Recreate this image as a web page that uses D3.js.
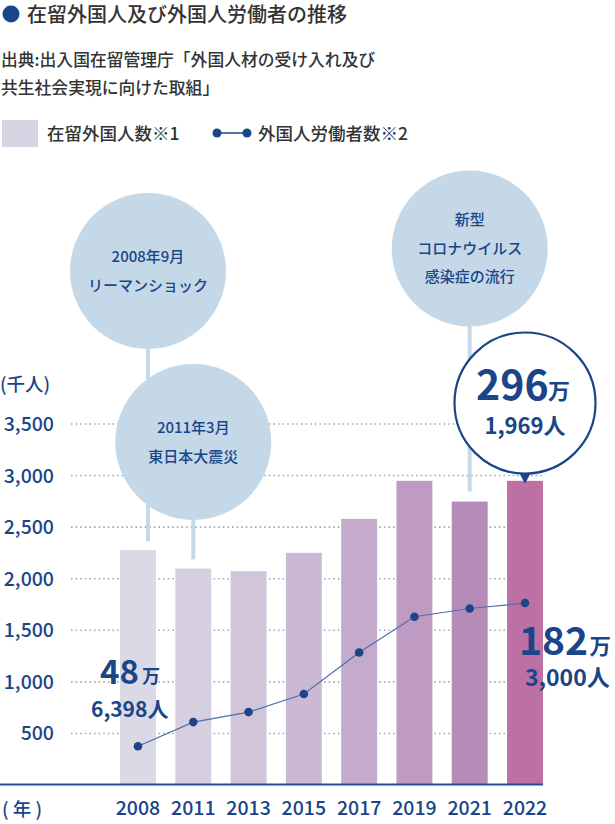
<!DOCTYPE html>
<html><head><meta charset="utf-8">
<script src="https://cdn.jsdelivr.net/npm/d3@7"></script>
<style>
body{margin:0;background:#fff;}
svg{display:block;font-family:"Noto Sans CJK JP","Noto Sans",sans-serif;}
</style></head>
<body><svg id="c" width="615" height="824"></svg>
<script>
const years = ["2008","2011","2013","2015","2017","2019","2021","2022"];
const residents = [2277, 2099, 2073, 2251, 2580, 2949, 2748, 2949];
const workers = [375, 610, 707, 882, 1285, 1631, 1711, 1764];
const barColors = ["#dcd9e6","#d6cfe1","#d1c5db","#cbb9d4","#c4aacb","#bf9bc3","#b78bb8","#bd70a4"];
const yTicks = [500, 1000, 1500, 2000, 2500, 3000, 3500];
const tickLabels = ["500","1,000","1,500","2,000","2,500","3,000","3,500"];
const title = "在留外国人及び外国人労働者の推移";
const sourceLines = ["出典:出入国在留管理庁「外国人材の受け入れ及び","共生社会実現に向けた取組」"];
const legendLabels = ["在留外国人数※1","外国人労働者数※2"];
const events = [
  {year:"2008", lines:["2008年9月","リーマンショック"]},
  {year:"2011", lines:["2011年3月","東日本大震災"]},
  {year:"2021", lines:["新型","コロナウイルス","感染症の流行"]}
];

const NAVY = "#1a4588", TXT = "#333", BUB = "#c4d8e8";
const svg = d3.select("#c");
const x = d3.scaleBand().domain(years).range([110.35, 552.65]).paddingInner(0.35).paddingOuter(0.175);
const y = d3.scaleLinear().domain([0, 3500]).range([785, 424]);
const bw = x.bandwidth();
const xEnd = x("2022") + bw;

// Title
svg.append("circle").attr("cx", 11).attr("cy", 14).attr("r", 8.5).attr("fill", NAVY);
svg.append("text").attr("x", 27).attr("y", 22).attr("font-size", 20).attr("font-weight", 500).attr("fill", TXT).text(title);
sourceLines.forEach((s,i)=>svg.append("text").attr("x", 1).attr("y", 66 + i*28).attr("font-size", 16.8).attr("font-weight", 500).attr("fill", TXT).text(s));

// Legend
svg.append("rect").attr("x", 2).attr("y", 120).attr("width", 36).attr("height", 27).attr("fill", "#d7d3e3");
svg.append("text").attr("x", 47).attr("y", 140).attr("font-size", 17.5).attr("font-weight", 500).attr("fill", TXT).text(legendLabels[0]);
svg.append("line").attr("x1", 217).attr("x2", 247).attr("y1", 133).attr("y2", 133).attr("stroke", NAVY).attr("stroke-width", 1.5);
[217,247].forEach(cx=>svg.append("circle").attr("cx", cx).attr("cy", 133).attr("r", 4.5).attr("fill", NAVY));
svg.append("text").attr("x", 258).attr("y", 140).attr("font-size", 17.5).attr("font-weight", 500).attr("fill", TXT).text(legendLabels[1]);

// Grid
const grid = svg.append("g");
grid.selectAll("line").data(yTicks).join("line")
  .attr("x1", 71).attr("x2", xEnd).attr("y1", d=>y(d)).attr("y2", d=>y(d))
  .attr("stroke", "#a9a6b4").attr("stroke-width", 1.6).attr("stroke-dasharray", "1.6 3");

// Y axis labels via d3 axis
const yAxis = d3.axisLeft(y).tickValues(yTicks).tickFormat((d,i)=>tickLabels[i]).tickSize(0).tickPadding(0);
const ya = svg.append("g").attr("transform", "translate(54,0)").call(yAxis);
ya.select(".domain").remove();
ya.selectAll("text").attr("font-size", 19.5).attr("font-weight", 500).attr("fill", NAVY)
  .attr("font-family", '"Noto Sans CJK JP",sans-serif').attr("dy", "0.33em");
svg.append("text").attr("x", 0).attr("y", 391).attr("font-size", 18.5).attr("font-weight", 500).attr("fill", NAVY).text("(千人)");

// Bubbles (events)
function bubble(cx, cy, r, stemTop, stemBottom, lines){
  svg.append("line").attr("x1", cx).attr("x2", cx).attr("y1", stemTop).attr("y2", stemBottom).attr("stroke", BUB).attr("stroke-width", 4);
  svg.append("circle").attr("cx", cx).attr("cy", cy).attr("r", r).attr("fill", BUB);
  const n = lines.length;
  lines.forEach((l,i)=>svg.append("text").attr("x", cx).attr("y", cy + (i-(n-1)/2)*28.5).attr("dy","0.36em")
    .attr("text-anchor","middle").attr("font-size", 15).attr("font-weight", 500).attr("fill", NAVY).text(l));
}
const ev0 = events[0], ev1 = events[1], ev2 = events[2];
const i0 = years.indexOf(ev0.year), i1 = years.indexOf(ev1.year), i2 = years.indexOf(ev2.year);
bubble(x(ev0.year)+bw/2+10, 271, 78, 300, y(residents[i0])-9, ev0.lines);
// Bars
svg.append("g").selectAll("rect").data(years).join("rect")
  .attr("x", d=>x(d)).attr("width", bw)
  .attr("y", (d,i)=>y(residents[i])).attr("height", (d,i)=>y(0)-y(residents[i]))
  .attr("fill", (d,i)=>barColors[i]);
bubble(x(ev1.year)+bw/2, 442, 78, 450, y(residents[i1])-9, ev1.lines);
bubble(x(ev2.year)+bw/2, 248.5, 78, 300, y(residents[i2])-10, ev2.lines);

// Axis baseline
svg.append("line").attr("x1", 0).attr("x2", xEnd).attr("y1", 784.5).attr("y2", 784.5).attr("stroke", "#2a4f92").attr("stroke-width", 2);

// X axis labels
const xAxis = d3.axisBottom(x).tickSize(0).tickPadding(0);
const xa = svg.append("g").attr("transform", "translate(0,799)").call(xAxis);
xa.select(".domain").remove();
xa.selectAll("text").attr("font-size", 19.5).attr("font-weight", 500).attr("fill", NAVY)
  .attr("font-family", '"Noto Sans CJK JP",sans-serif').attr("dy", "0.8em");
svg.append("text").attr("x", 2).attr("y", 816).attr("font-size", 18.5).attr("font-weight", 500).attr("fill", NAVY)
  .attr("xml:space","preserve").style("white-space","pre").text("( 年 )");

// Worker line
const line = d3.line().x((d,i)=>x(years[i])+bw/2).y(d=>y(d));
svg.append("path").attr("d", line(workers)).attr("fill","none").attr("stroke","#4c70aa").attr("stroke-width",1.2);
svg.append("g").selectAll("circle").data(workers).join("circle")
  .attr("cx",(d,i)=>x(years[i])+bw/2).attr("cy", d=>y(d)).attr("r", 4.3).attr("fill", NAVY);

// Callouts for worker counts
function bigLabel(xl, yBig, big, unit, small, xs, ys, sizeBig, sizeSmall){
  svg.append("text").attr("x", xl).attr("y", yBig).attr("fill", NAVY).attr("font-weight", 700).attr("font-size", sizeBig).text(big);
  const w = sizeBig * 0.56 * big.length;
  svg.append("text").attr("x", xl + w + 5).attr("y", yBig - 1).attr("fill", NAVY).attr("font-weight", 700).attr("font-size", sizeBig*0.55).text(unit);
  svg.append("text").attr("x", xs).attr("y", ys).attr("fill", NAVY).attr("font-weight", 700).attr("font-size", sizeSmall).text(small);
}
bigLabel(100, 684, "48", "万", "6,398人", 91, 717, 33, 21);
bigLabel(519, 655, "182", "万", "3,000人", 525, 686, 39, 23);

// 296万 bubble with pointer
const bx = x("2022")+bw/2, by = 403, br = 70.5;
const tipY = y(residents[7]) + 3;
svg.append("path").attr("d", `M${bx-7},${by+br-3} L${bx},${tipY} L${bx+7},${by+br-3} Z`).attr("fill", NAVY);
svg.append("circle").attr("cx", bx).attr("cy", by).attr("r", br).attr("fill", "#fff").attr("stroke", NAVY).attr("stroke-width", 2.2);
svg.append("text").attr("x", bx-49).attr("y", 400).attr("fill", NAVY).attr("font-weight", 700).attr("font-size", 41).text("296");
svg.append("text").attr("x", bx+23).attr("y", 399).attr("fill", NAVY).attr("font-weight", 700).attr("font-size", 22).text("万");
svg.append("text").attr("x", bx).attr("y", 434).attr("text-anchor","middle").attr("fill", NAVY).attr("font-weight", 700).attr("font-size", 22).text("1,969人");
</script></body></html>
